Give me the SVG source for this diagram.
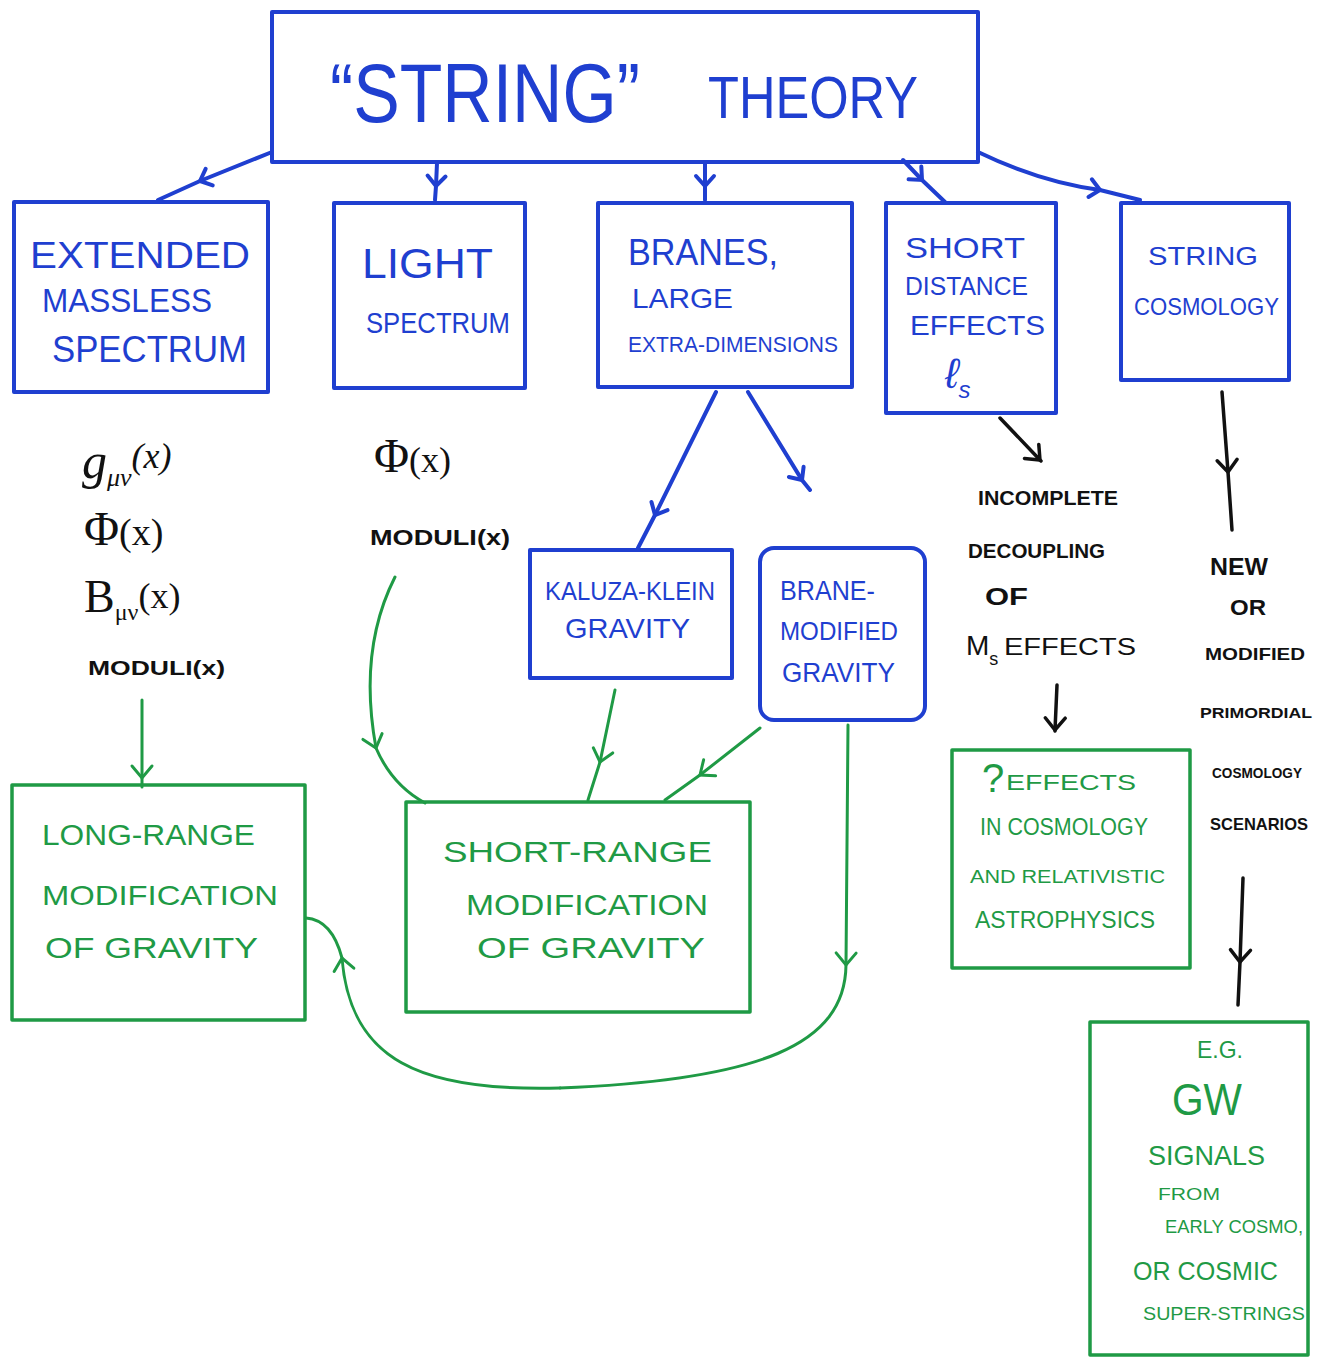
<svg xmlns="http://www.w3.org/2000/svg" width="1321" height="1361" viewBox="0 0 1321 1361">
<style>
.bbox{fill:none;stroke:#1f3fd0;stroke-width:4;stroke-linejoin:round}
.gbox{fill:none;stroke:#1f9a45;stroke-width:3.5;stroke-linejoin:round}
.bt{fill:#1f3fd0;font-family:"Liberation Sans",Arial,sans-serif}
.gt{fill:#1f9a45;font-family:"Liberation Sans",Arial,sans-serif}
.kt{fill:#111;font-family:"Liberation Sans",Arial,sans-serif}
.km{fill:#111;font-family:"Liberation Serif","Times New Roman",serif}
.bl{fill:none;stroke:#1f3fd0;stroke-width:4;stroke-linecap:round;marker-mid:url(#cb)}
.kl{fill:none;stroke:#111;stroke-width:3.5;stroke-linecap:round;marker-mid:url(#ck)}
.gl{fill:none;stroke:#1f9a45;stroke-width:3;stroke-linecap:round;marker-mid:url(#cg)}
</style>
<defs>
<marker id="cb" markerUnits="userSpaceOnUse" markerWidth="30" markerHeight="30" viewBox="-15 -15 30 30" refX="0" refY="0" orient="auto"><path d="M-10,-9 L0,0 L-10,9" fill="none" stroke="#1f3fd0" stroke-width="4" stroke-linecap="round"/></marker>
<marker id="ck" markerUnits="userSpaceOnUse" markerWidth="30" markerHeight="30" viewBox="-15 -15 30 30" refX="0" refY="0" orient="auto"><path d="M-12,-10 L0,0 L-12,10" fill="none" stroke="#111" stroke-width="3.5" stroke-linecap="round"/></marker>
<marker id="cg" markerUnits="userSpaceOnUse" markerWidth="30" markerHeight="30" viewBox="-15 -15 30 30" refX="0" refY="0" orient="auto"><path d="M-12,-10 L0,0 L-12,10" fill="none" stroke="#1f9a45" stroke-width="3" stroke-linecap="round"/></marker>
</defs>
<rect width="1321" height="1361" fill="#fff"/>

<g id="connectors">
<path class="bl" d="M272,152 L200,181 L158,200"/>
<path class="bl" d="M437,163 L436,186 L435,200"/>
<path class="bl" d="M705,163 L705,186 L705,200"/>
<path class="bl" d="M903,160 L922,180 L945,202"/>
<path class="bl" d="M978,152 Q1040,182 1100,190 L1140,200"/>
<path class="bl" d="M716,392 L655,515 L638,548"/>
<path class="bl" d="M748,392 L802,480 L810,490"/>
<path class="kl" d="M1000,418 L1040,460 L1041,461"/>
<path class="kl" d="M1222,392 L1228,472 L1232,530"/>
<path class="kl" d="M1057,685 L1055,730 L1055,731"/>
<path class="kl" d="M1243,878 L1240,962 L1238,1005"/>
<path class="gl" d="M142,700 L142,778 L142,787"/>
<path class="gl" d="M395,577 Q358,650 376,748 Q392,785 425,803"/>
<path class="gl" d="M615,690 L600,762 L588,800"/>
<path class="gl" d="M760,728 L700,775 L665,800"/>
<path class="gl" d="M848,725 L846,965 C845,1045 760,1080 560,1088"/>
<path class="gl" d="M560,1088 C420,1092 350,1060 342,958 Q332,920 306,918"/>
</g>

<g id="string-theory">
<rect class="bbox" x="272" y="12" width="706" height="150"/>
<text class="bt" x="330" y="122" font-size="84" textLength="310" lengthAdjust="spacingAndGlyphs">“STRING”</text>
<text class="bt" x="708" y="118" font-size="60" textLength="210" lengthAdjust="spacingAndGlyphs">THEORY</text>
</g>

<g id="extended-massless">
<rect class="bbox" x="14" y="202" width="254" height="190"/>
<text class="bt" x="30" y="268" font-size="36" textLength="220" lengthAdjust="spacingAndGlyphs">EXTENDED</text>
<text class="bt" x="42" y="312" font-size="34" textLength="170" lengthAdjust="spacingAndGlyphs">MASSLESS</text>
<text class="bt" x="52" y="362" font-size="36" textLength="195" lengthAdjust="spacingAndGlyphs">SPECTRUM</text>
</g>

<g id="light-spectrum">
<rect class="bbox" x="334" y="203" width="191" height="185"/>
<text class="bt" x="362" y="278" font-size="42" textLength="131" lengthAdjust="spacingAndGlyphs">LIGHT</text>
<text class="bt" x="366" y="333" font-size="30" textLength="144" lengthAdjust="spacingAndGlyphs">SPECTRUM</text>
</g>

<g id="branes">
<rect class="bbox" x="598" y="203" width="254" height="184"/>
<text class="bt" x="628" y="265" font-size="36" textLength="150" lengthAdjust="spacingAndGlyphs">BRANES,</text>
<text class="bt" x="632" y="308" font-size="28" textLength="101" lengthAdjust="spacingAndGlyphs">LARGE</text>
<text class="bt" x="628" y="352" font-size="22" textLength="210" lengthAdjust="spacingAndGlyphs">EXTRA-DIMENSIONS</text>
</g>

<g id="short-distance">
<rect class="bbox" x="886" y="203" width="170" height="210"/>
<text class="bt" x="905" y="258" font-size="30" textLength="120" lengthAdjust="spacingAndGlyphs">SHORT</text>
<text class="bt" x="905" y="295" font-size="25" textLength="123" lengthAdjust="spacingAndGlyphs">DISTANCE</text>
<text class="bt" x="910" y="335" font-size="28" textLength="135" lengthAdjust="spacingAndGlyphs">EFFECTS</text>
<text class="bt" x="945" y="388" font-size="42" font-style="italic" font-family="Liberation Serif,serif">ℓ<tspan font-size="24" dy="10">s</tspan></text>
</g>

<g id="string-cosmology">
<rect class="bbox" x="1121" y="203" width="168" height="177"/>
<text class="bt" x="1148" y="265" font-size="26" textLength="110" lengthAdjust="spacingAndGlyphs">STRING</text>
<text class="bt" x="1134" y="315" font-size="24" textLength="145" lengthAdjust="spacingAndGlyphs">COSMOLOGY</text>
</g>

<g id="kaluza-klein">
<rect class="bbox" x="530" y="550" width="202" height="128"/>
<text class="bt" x="545" y="600" font-size="26" textLength="170" lengthAdjust="spacingAndGlyphs">KALUZA-KLEIN</text>
<text class="bt" x="565" y="638" font-size="28" textLength="125" lengthAdjust="spacingAndGlyphs">GRAVITY</text>
</g>

<g id="brane-modified">
<rect class="bbox" x="760" y="548" width="165" height="172" rx="14"/>
<text class="bt" x="780" y="600" font-size="28" textLength="95" lengthAdjust="spacingAndGlyphs">BRANE-</text>
<text class="bt" x="780" y="640" font-size="26" textLength="118" lengthAdjust="spacingAndGlyphs">MODIFIED</text>
<text class="bt" x="782" y="682" font-size="27" textLength="113" lengthAdjust="spacingAndGlyphs">GRAVITY</text>
</g>

<g id="massless-fields">
<text class="km" x="82" y="478" font-size="50" font-style="italic">g<tspan font-size="26" dy="8">μν</tspan><tspan font-size="36" dy="-18">(x)</tspan></text>
<text class="km" x="84" y="545" font-size="48">Φ<tspan font-size="38">(x)</tspan></text>
<text class="km" x="84" y="612" font-size="46">B<tspan font-size="24" dy="8">μν</tspan><tspan font-size="36" dy="-12">(x)</tspan></text>
<text class="kt" x="88" y="675" font-size="21" font-weight="bold" textLength="137" lengthAdjust="spacingAndGlyphs">MODULI(x)</text>
</g>

<g id="light-fields">
<text class="km" x="374" y="472" font-size="48">Φ<tspan font-size="36">(x)</tspan></text>
<text class="kt" x="370" y="545" font-size="22" font-weight="bold" textLength="140" lengthAdjust="spacingAndGlyphs">MODULI(x)</text>
</g>

<g id="incomplete-decoupling">
<text class="kt" x="978" y="505" font-size="20" font-weight="bold" textLength="140" lengthAdjust="spacingAndGlyphs">INCOMPLETE</text>
<text class="kt" x="968" y="558" font-size="20" font-weight="bold" textLength="137" lengthAdjust="spacingAndGlyphs">DECOUPLING</text>
<text class="kt" x="985" y="605" font-size="23" font-weight="bold" textLength="43" lengthAdjust="spacingAndGlyphs">OF</text>
<text class="kt" x="966" y="655" font-size="28">M<tspan font-size="18" dy="10">s</tspan></text>
<text class="kt" x="1004" y="655" font-size="24" textLength="132" lengthAdjust="spacingAndGlyphs">EFFECTS</text>
</g>

<g id="new-modified-cosmology">
<text class="kt" x="1210" y="575" font-size="24" font-weight="bold" textLength="58" lengthAdjust="spacingAndGlyphs">NEW</text>
<text class="kt" x="1230" y="615" font-size="22" font-weight="bold" textLength="36" lengthAdjust="spacingAndGlyphs">OR</text>
<text class="kt" x="1205" y="660" font-size="17" font-weight="bold" textLength="100" lengthAdjust="spacingAndGlyphs">MODIFIED</text>
<text class="kt" x="1200" y="718" font-size="15" font-weight="bold" textLength="112" lengthAdjust="spacingAndGlyphs">PRIMORDIAL</text>
<text class="kt" x="1212" y="778" font-size="15" font-weight="bold" textLength="90" lengthAdjust="spacingAndGlyphs">COSMOLOGY</text>
<text class="kt" x="1210" y="830" font-size="17" font-weight="bold" textLength="98" lengthAdjust="spacingAndGlyphs">SCENARIOS</text>
</g>

<g id="long-range">
<rect class="gbox" x="12" y="785" width="293" height="235"/>
<text class="gt" x="42" y="845" font-size="30" textLength="213" lengthAdjust="spacingAndGlyphs">LONG-RANGE</text>
<text class="gt" x="42" y="905" font-size="28" textLength="236" lengthAdjust="spacingAndGlyphs">MODIFICATION</text>
<text class="gt" x="45" y="958" font-size="30" textLength="213" lengthAdjust="spacingAndGlyphs">OF  GRAVITY</text>
</g>

<g id="short-range">
<rect class="gbox" x="406" y="802" width="344" height="210"/>
<text class="gt" x="443" y="862" font-size="30" textLength="269" lengthAdjust="spacingAndGlyphs">SHORT-RANGE</text>
<text class="gt" x="466" y="915" font-size="30" textLength="242" lengthAdjust="spacingAndGlyphs">MODIFICATION</text>
<text class="gt" x="477" y="958" font-size="30" textLength="228" lengthAdjust="spacingAndGlyphs">OF  GRAVITY</text>
</g>

<g id="effects-cosmology">
<rect class="gbox" x="952" y="750" width="238" height="218"/>
<text class="gt" x="982" y="792" font-size="40">?</text>
<text class="gt" x="1006" y="790" font-size="22" textLength="130" lengthAdjust="spacingAndGlyphs">EFFECTS</text>
<text class="gt" x="980" y="835" font-size="23" textLength="168" lengthAdjust="spacingAndGlyphs">IN COSMOLOGY</text>
<text class="gt" x="970" y="883" font-size="19" textLength="195" lengthAdjust="spacingAndGlyphs">AND RELATIVISTIC</text>
<text class="gt" x="975" y="928" font-size="24" textLength="180" lengthAdjust="spacingAndGlyphs">ASTROPHYSICS</text>
</g>

<g id="gw-signals">
<rect class="gbox" x="1090" y="1022" width="218" height="333"/>
<text class="gt" x="1197" y="1058" font-size="24" textLength="46" lengthAdjust="spacingAndGlyphs">E.G.</text>
<text class="gt" x="1172" y="1115" font-size="44" textLength="70" lengthAdjust="spacingAndGlyphs">GW</text>
<text class="gt" x="1148" y="1165" font-size="28" textLength="117" lengthAdjust="spacingAndGlyphs">SIGNALS</text>
<text class="gt" x="1158" y="1200" font-size="17" textLength="62" lengthAdjust="spacingAndGlyphs">FROM</text>
<text class="gt" x="1165" y="1233" font-size="18" textLength="138" lengthAdjust="spacingAndGlyphs">EARLY COSMO,</text>
<text class="gt" x="1133" y="1280" font-size="26" textLength="145" lengthAdjust="spacingAndGlyphs">OR COSMIC</text>
<text class="gt" x="1143" y="1320" font-size="18" textLength="162" lengthAdjust="spacingAndGlyphs">SUPER-STRINGS</text>
</g>
</svg>
